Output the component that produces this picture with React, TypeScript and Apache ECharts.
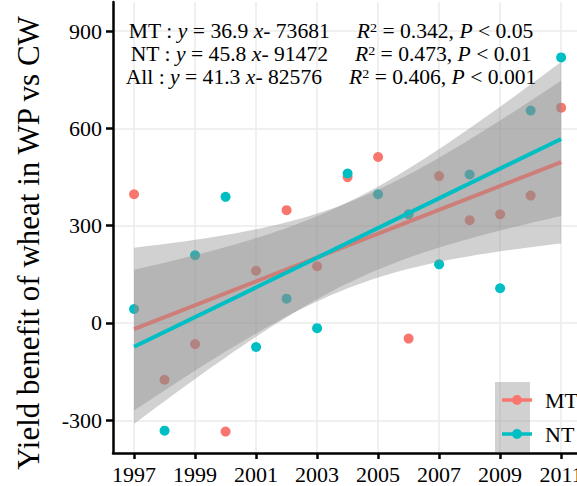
import React, { useEffect, useRef } from "react";
import * as echarts from "echarts";

const years = [1997, 1998, 1999, 2000, 2001, 2002, 2003, 2004, 2005, 2006, 2007, 2008, 2009, 2010, 2011];
const mtValues = [397, -175, -65, -335, 161, 348, 175, 450, 512, -48, 453, 317, 335, 393, 664];
const ntValues = [43, -332, 209, 389, -74, 75, -16, 461, 397, 335, 181, 458, 107, 655, 819];
const xTicks = [1997, 1999, 2001, 2003, 2005, 2007, 2009, 2011];
const yTicks = [-300, 0, 300, 600, 900];
const groupNames = ["MT", "NT"];
const groupColors = ["#F8766D", "#00BFC4"];
const annotationLines = [
  "{n|MT : }{i|y}{n| = 36.9 }{i|x}{n|- 73681     }{i|R}{s|2}{n| = 0.342, }{i|P}{n| < 0.05}",
  "{n|NT : }{i|y}{n| = 45.8 }{i|x}{n|- 91472     }{i|R}{s|2}{n| = 0.473, }{i|P}{n| < 0.01}",
  "{n|All : }{i|y}{n| = 41.3 }{i|x}{n|- 82576     }{i|R}{s|2}{n| = 0.406, }{i|P}{n| < 0.001}",
];
const yTitle = "Yield benefit of wheat in WP vs CW";

const T_975_DF13 = 2.160;
const FONT = "Liberation Serif";

function linearFit(xs: number[], ys: number[]) {
  const n = xs.length;
  const xbar = xs.reduce((a, b) => a + b, 0) / n;
  const ybar = ys.reduce((a, b) => a + b, 0) / n;
  let sxx = 0, sxy = 0;
  for (let i = 0; i < n; i++) {
    sxx += (xs[i] - xbar) ** 2;
    sxy += (xs[i] - xbar) * (ys[i] - ybar);
  }
  const slope = sxy / sxx;
  const icpt = ybar - slope * xbar;
  let sse = 0;
  for (let i = 0; i < n; i++) sse += (ys[i] - (icpt + slope * xs[i])) ** 2;
  const s = Math.sqrt(sse / (n - 2));
  const f = (x: number) => icpt + slope * x;
  const half = (x: number) => T_975_DF13 * s * Math.sqrt(1 / n + (x - xbar) ** 2 / sxx);
  return { f, half };
}

function bandPolygon(fit: ReturnType<typeof linearFit>) {
  const upper: number[][] = [];
  const lower: number[][] = [];
  const x0 = years[0];
  const x1 = years[years.length - 1];
  const steps = 56;
  for (let k = 0; k <= steps; k++) {
    const x = x0 + ((x1 - x0) * k) / steps;
    upper.push([x, fit.f(x) + fit.half(x)]);
    lower.push([x, fit.f(x) - fit.half(x)]);
  }
  return upper.concat(lower.reverse());
}

const tickRich = { t: { fontFamily: FONT, fontSize: 22, color: "#000" } };

export default function App() {
  const ref = useRef<HTMLDivElement>(null);
  useEffect(() => {
    if (!ref.current) return;
    const chart = echarts.init(ref.current, undefined, { renderer: "svg" });
    const allValues = [mtValues, ntValues];
    const fits = allValues.map((v) => linearFit(years, v));

    const series: any[] = [];
    groupNames.forEach((name, gi) => {
      series.push({
        type: "scatter",
        name,
        data: years.map((y, i) => [y, allValues[gi][i]]),
        symbol: "circle",
        symbolSize: 10,
        itemStyle: { color: groupColors[gi], opacity: 1 },
        z: 1 + gi,
        silent: true,
      });
    });
    groupNames.forEach((name, gi) => {
      const poly = bandPolygon(fits[gi]);
      series.push({
        type: "custom",
        name: name + " band",
        data: [[years[0], 0]],
        encode: { x: 0, y: 1 },
        silent: true,
        z: 3 + gi * 2,
        renderItem: (_params: any, api: any) => ({
          type: "polygon",
          shape: { points: poly.map((p) => api.coord(p)) },
          style: { fill: "rgba(140,140,140,0.4)" },
        }),
      });
      series.push({
        type: "line",
        name,
        data: [years[0], years[years.length - 1]].map((x) => [x, fits[gi].f(x)]),
        showSymbol: false,
        symbol: "none",
        lineStyle: { color: groupColors[gi], width: 4 },
        itemStyle: { color: groupColors[gi] },
        z: 4 + gi * 2,
        silent: true,
      });
    });

    const legendIcon =
      "path://M0,3.2L30,3.2L30,6.8L0,6.8Z M10,5A5,5,0,1,1,20,5A5,5,0,1,1,10,5Z";

    chart.setOption({
      animation: false,
      backgroundColor: "#ffffff",
      textStyle: { fontFamily: FONT },
      grid: {
        left: 113,
        right: 0,
        top: 2,
        bottom: 33,
        containLabel: false,
        outerBoundsMode: "none",
      },
      xAxis: {
        type: "value",
        min: 1996.31,
        max: 2011.52,
        axisLine: { show: true, onZero: false, lineStyle: { color: "#000", width: 2.5 } },
        axisTick: { show: true, customValues: xTicks, length: 6, lineStyle: { color: "#000", width: 2.5 } },
        axisLabel: {
          customValues: xTicks,
          formatter: (v: number) => `{t|${v}}`,
          rich: tickRich,
          fontFamily: FONT,
          fontSize: 22,
          color: "#000",
          margin: 10,
        },
        splitLine: { show: true, lineStyle: { color: "#EBEBEB", width: 1.5 } },
      },
      yAxis: {
        type: "value",
        min: -401,
        max: 990,
        axisLine: { show: true, onZero: false, lineStyle: { color: "#000", width: 2.5 } },
        axisTick: { show: true, customValues: yTicks, length: 7, lineStyle: { color: "#000", width: 2.5 } },
        axisLabel: {
          customValues: yTicks,
          formatter: (v: number) => `{t|${v}}`,
          rich: tickRich,
          fontFamily: FONT,
          fontSize: 22,
          color: "#000",
          margin: 11,
        },
        splitLine: { show: true, lineStyle: { color: "#EBEBEB", width: 1.5 } },
      },
      legend: {
        orient: "vertical",
        left: 497,
        top: 384,
        itemWidth: 30,
        itemHeight: 10,
        itemGap: 12,
        selectedMode: false,
        data: groupNames.map((name, gi) => ({
          name,
          icon: legendIcon,
          itemStyle: { color: groupColors[gi], borderWidth: 0 },
        })),
        textStyle: { fontFamily: FONT, fontSize: 22, color: "#000", padding: [0, 0, 0, 8] },
        z: 10,
      },
      graphic: [
        {
          type: "rect",
          shape: { x: 495, y: 382, width: 35, height: 70 },
          style: { fill: "rgba(140,140,140,0.4)" },
          z: 9,
          silent: true,
        },
        ...annotationLines.map((t, i) => ({
          type: "text",
          x: 331,
          y: 31 + i * 23,
          scaleX: 1.08,
          z: 20,
          style: {
            text: t,
            align: "center",
            verticalAlign: "middle",
            rich: {
              n: { fontFamily: FONT, fontSize: 20, color: "#000" },
              i: { fontFamily: FONT, fontSize: 20, fontStyle: "italic", color: "#000" },
              s: { fontFamily: FONT, fontSize: 13, color: "#000", verticalAlign: "top" },
            },
          },
        })),
        {
          type: "text",
          x: 28,
          y: 243,
          rotation: Math.PI / 2,
          z: 20,
          style: {
            text: yTitle,
            align: "center",
            verticalAlign: "middle",
            fontFamily: FONT,
            fontSize: 31,
            fill: "#000",
          },
        },
      ],
      series,
    });
    return () => chart.dispose();
  }, []);
  return (
    <div
      ref={ref}
      style={{ position: "fixed", left: 0, top: 0, width: 577, height: 486 }}
    />
  );
}
